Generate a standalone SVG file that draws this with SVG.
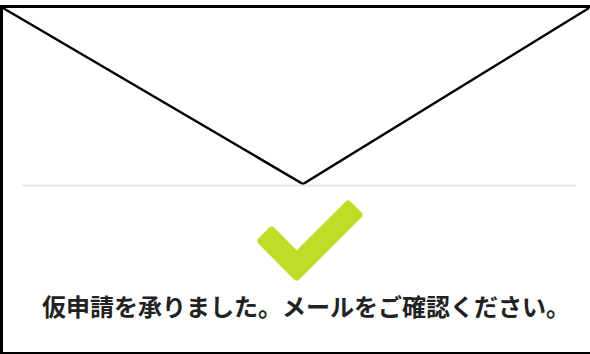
<svg xmlns="http://www.w3.org/2000/svg" width="590" height="354" viewBox="0 0 590 354">
<style>
.edge{stroke:#000;fill:none}
.flap{stroke:#000;stroke-width:2.4;fill:none;stroke-linejoin:miter}
.sep{stroke:#e4e6ee;stroke-width:2}
.check{fill:#bedd26;stroke:#bedd26;stroke-width:7.5;stroke-linejoin:round}
.msg{font-family:"Noto Sans CJK JP","Noto Sans",sans-serif;font-weight:bold;font-size:24px;fill:#222}
</style>
<rect width="590" height="354" fill="#fff"/>
<g id="envelope">
<line class="edge" x1="0" y1="6.5" x2="590" y2="6.5" stroke-width="3"/>
<line class="edge" x1="1.5" y1="5" x2="1.5" y2="354" stroke-width="3"/>
<line class="edge" x1="0" y1="353" x2="590" y2="353" stroke-width="2"/>
<polyline class="flap" points="3,8 303,184 589,8"/>
<line class="sep" x1="22" y1="185.5" x2="576" y2="185.5"/>
</g>
<g id="check">
<polygon class="check" points="261.2,241 271.8,230.4 296.7,255.6 348.1,204.3 358.7,214.9 296.7,276.8"/>
</g>
<g id="message">
<text class="msg" x="306" y="316" text-anchor="middle">仮申請を承りました。メールをご確認ください。</text>
</g>
</svg>
